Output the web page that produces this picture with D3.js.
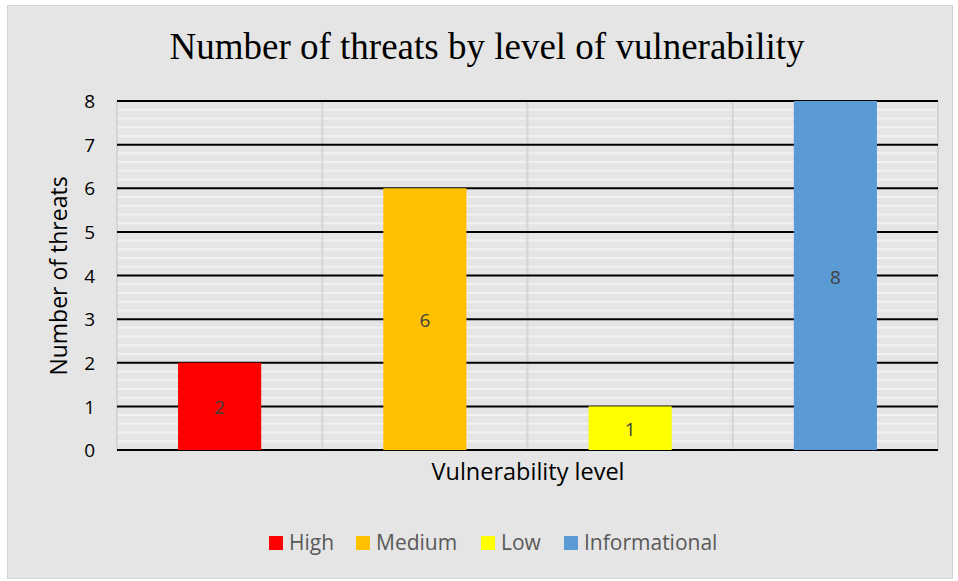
<!DOCTYPE html>
<html><head><meta charset="utf-8">
<script src="https://cdn.jsdelivr.net/npm/d3@7"></script>
<style>
html,body{margin:0;padding:0;background:#fff;}
svg{display:block;}
</style></head>
<body>
<svg id="chart" width="958" height="581"></svg>
<script>
const categories = ["High", "Medium", "Low", "Informational"];
const values = [2, 6, 1, 8];
const colors = ["#ff0000", "#ffc000", "#ffff00", "#5b9bd5"];
const yTicks = [0, 1, 2, 3, 4, 5, 6, 7, 8];
const titleText = "Number of threats by level of vulnerability";
const yTitle = "Number of threats";
const xTitle = "Vulnerability level";

(function () {
const svg = d3.select("#chart");
const W = 958, H = 581;
const font = "'Open Sans', Lato, sans-serif";

svg.append("rect").attr("x", 7.5).attr("y", 5.5).attr("width", W - 13).attr("height", H - 8)
  .attr("fill", "#e5e5e5").attr("stroke", "#d4d4d4").attr("stroke-width", 1);

const pl = 117, pr = 938, pt = 101, pb = 450;
const x = d3.scaleBand().domain(categories).range([pl, pr]).paddingInner(0).paddingOuter(0);
const y = d3.scaleLinear().domain([0, 8]).range([pb, pt]);

const g = svg.append("g");
const minor = d3.range(0, 8.0001, 0.2).filter(v => Math.abs(v - Math.round(v)) > 1e-6);
g.selectAll(".minor").data(minor).enter().append("line")
  .attr("x1", pl).attr("x2", pr)
  .attr("y1", d => y(d)).attr("y2", d => y(d))
  .attr("stroke", "#f2f2f2").attr("stroke-width", 2);
const vlines = categories.map(c => x(c)).concat([pr]);
g.selectAll(".vline").data(vlines).enter().append("line")
  .attr("x1", d => d).attr("x2", d => d)
  .attr("y1", pt).attr("y2", pb)
  .attr("stroke", "#d4d4d4").attr("stroke-width", 2);
g.selectAll(".major").data(yTicks).enter().append("line")
  .attr("x1", pl).attr("x2", pr)
  .attr("y1", d => y(d)).attr("y2", d => y(d))
  .attr("stroke", "#000").attr("stroke-width", 2);

const bw = x.bandwidth() * 0.405;
g.selectAll(".bar").data(values).enter().append("rect")
  .attr("x", (d, i) => x(categories[i]) + x.bandwidth() / 2 - bw / 2)
  .attr("width", bw)
  .attr("y", d => y(d))
  .attr("height", d => y(0) - y(d))
  .attr("fill", (d, i) => colors[i]);

g.selectAll(".lbl").data(values).enter().append("text")
  .attr("x", (d, i) => x(categories[i]) + x.bandwidth() / 2)
  .attr("y", d => (y(d) + y(0)) / 2 + 8)
  .attr("text-anchor", "middle")
  .attr("font-family", font).attr("font-size", 19).attr("fill", "#404040")
  .text(d => d);

const yAxis = d3.axisLeft(y).tickValues(yTicks).tickSize(0).tickPadding(0);
const ya = svg.append("g").attr("transform", `translate(${pl - 22},0)`).call(yAxis);
ya.select(".domain").remove();
ya.selectAll("text").attr("font-family", font).attr("font-size", 19).attr("fill", "#000").attr("dy", "0.35em");

svg.append("text").attr("x", 487).attr("y", 59).attr("text-anchor", "middle")
  .attr("font-family", "'Liberation Serif', 'Times New Roman', serif").attr("font-size", 37).attr("fill", "#000")
  .text(titleText);

svg.append("text").attr("transform", "translate(67,276) rotate(-90)").attr("text-anchor", "middle")
  .attr("font-family", font).attr("font-size", 23).attr("fill", "#000").text(yTitle);
svg.append("text").attr("x", 528).attr("y", 480).attr("text-anchor", "middle")
  .attr("font-family", font).attr("font-size", 23.5).attr("fill", "#000").text(xTitle);

const legendX = [269, 356, 481, 564];
const items = svg.append("g").selectAll(".li").data(categories).enter().append("g")
  .attr("transform", (d, i) => `translate(${legendX[i]},536)`);
items.append("rect").attr("width", 14).attr("height", 14).attr("fill", (d, i) => colors[i]);
items.append("text").attr("x", 20).attr("y", 14).attr("font-family", font).attr("font-size", 21)
  .attr("fill", "#595959").text(d => d);
})();
</script>
</body></html>
